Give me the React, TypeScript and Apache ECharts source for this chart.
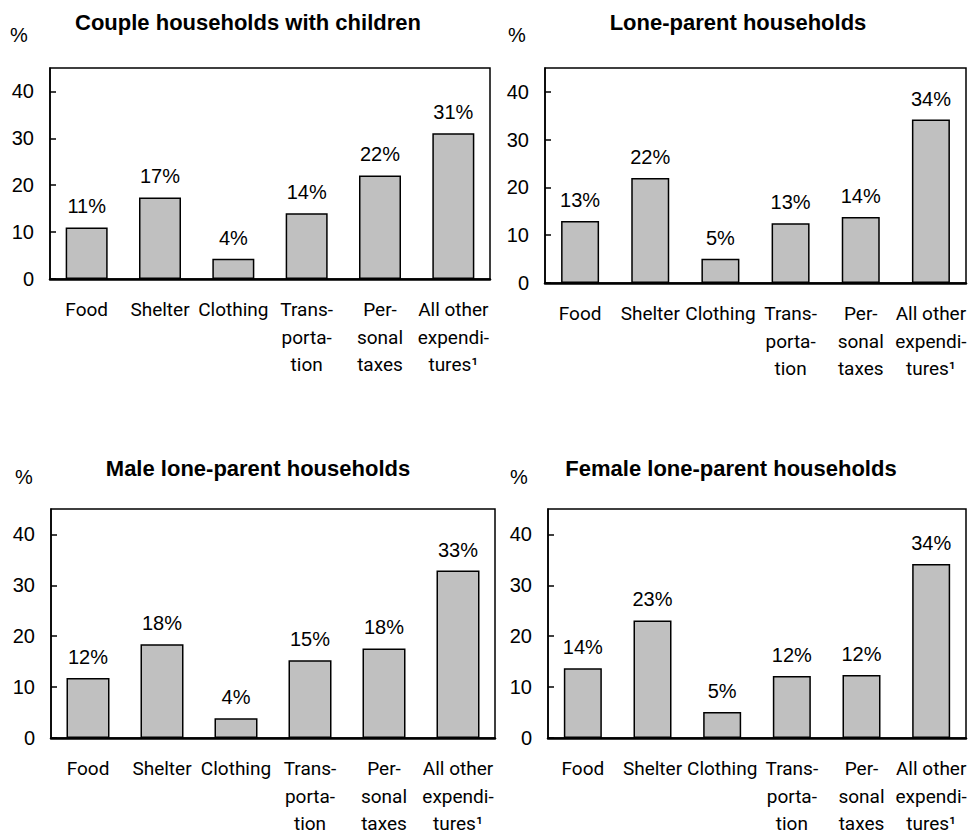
import React, { useEffect, useRef } from "react";
import * as echarts from "echarts";

// ---- data ----
const categories = [
  "Food",
  "Shelter",
  "Clothing",
  "Trans-\nporta-\ntion",
  "Per-\nsonal\ntaxes",
  "All other\nexpendi-\ntures¹",
];
const panelTitles = [
  "Couple households with children",
  "Lone-parent households",
  "Male lone-parent households",
  "Female lone-parent households",
];
const coupleValues = [11.0, 17.4, 4.3, 14.0, 22.1, 31.1];
const loneParentValues = [13.0, 22.0, 5.1, 12.5, 13.8, 34.2];
const maleLoneParentValues = [11.8, 18.4, 3.9, 15.3, 17.6, 32.9];
const femaleLoneParentValues = [13.7, 23.1, 5.1, 12.2, 12.4, 34.2];
const yMin = 0;
const yMax = 45;
const yInterval = 10;
const unitLabel = "%";

const seriesValues = [coupleValues, loneParentValues, maleLoneParentValues, femaleLoneParentValues];

// ---- layout (pixels) ----
const layout = [
  { left: 50, top: 68, width: 440, height: 211, barWidth: 42, titleX: 248, titleY: 22, pctX: 19, pctY: 35 },
  { left: 545, top: 68, width: 421, height: 215, barWidth: 38, titleX: 738, titleY: 22, pctX: 517, pctY: 35 },
  { left: 51, top: 509, width: 444, height: 229, barWidth: 43, titleX: 258, titleY: 468, pctX: 24, pctY: 477 },
  { left: 548, top: 509, width: 418, height: 229, barWidth: 38, titleX: 731, titleY: 468, pctX: 519, pctY: 477 },
];

const SANS = "'Liberation Sans', Arial, Helvetica, sans-serif";
const NARROW = "Roboto, 'Liberation Sans', sans-serif";

export default function App() {
  const ref = useRef<HTMLDivElement>(null);

  useEffect(() => {
    if (!ref.current) return;
    const chart = echarts.init(ref.current, undefined, { renderer: "svg" });

    const grid = layout.map((l) => ({
      left: l.left,
      top: l.top,
      width: l.width,
      height: l.height,
      show: true,
      borderColor: "#000",
      borderWidth: 1.5,
      backgroundColor: "transparent",
      containLabel: false,
      outerBoundsMode: "none",
    }));

    const xAxis = layout.map((_, i) => ({
      type: "category",
      gridIndex: i,
      data: categories,
      axisLine: { show: true, lineStyle: { color: "#000", width: 2.5 } },
      axisTick: { show: false },
      axisLabel: {
        interval: 0,
        color: "#000",
        fontFamily: NARROW,
        fontSize: 19,
        lineHeight: 27.5,
        margin: 17,
        align: "center",
      },
      splitLine: { show: false },
    }));

    const yAxis = layout.map((_, i) => ({
      type: "value",
      gridIndex: i,
      min: yMin,
      max: yMax,
      interval: yInterval,
      axisLine: { show: true, lineStyle: { color: "#000", width: 1.5 } },
      axisTick: { show: true, inside: true, length: 6, lineStyle: { color: "#000", width: 1.5 } },
      axisLabel: {
        color: "#000",
        fontFamily: SANS,
        fontSize: 20,
        margin: 16,
        showMaxLabel: false,
      },
      splitLine: { show: false },
    }));

    const series = seriesValues.map((vals, i) => ({
      type: "bar",
      xAxisIndex: i,
      yAxisIndex: i,
      data: vals,
      barWidth: layout[i].barWidth,
      itemStyle: { color: "#c0c0c0", borderColor: "#000", borderWidth: 1.5 },
      label: {
        show: true,
        position: "top",
        distance: 11,
        color: "#000",
        fontFamily: SANS,
        fontSize: 20,
        formatter: (p: any) => Math.round(p.value) + "%",
      },
    }));

    const graphicEls: any[] = [];
    layout.forEach((l, i) => {
      graphicEls.push({
        type: "text",
        x: l.titleX,
        y: l.titleY,
        style: {
          text: panelTitles[i],
          font: `bold 22px ${SANS}`,
          fill: "#000",
          align: "center",
          verticalAlign: "middle",
          textAlign: "center",
          textVerticalAlign: "middle",
        },
      });
      graphicEls.push({
        type: "text",
        x: l.pctX,
        y: l.pctY,
        style: {
          text: unitLabel,
          font: `20px ${SANS}`,
          fill: "#000",
          align: "center",
          verticalAlign: "middle",
          textAlign: "center",
          textVerticalAlign: "middle",
        },
      });
    });

    chart.setOption({
      animation: false,
      backgroundColor: "#fff",
      grid,
      xAxis,
      yAxis,
      series,
      graphic: { elements: graphicEls },
    } as any);

    return () => chart.dispose();
  }, []);

  return (
    <div
      ref={ref}
      style={{ position: "fixed", left: 0, top: 0, width: 969, height: 836, background: "#fff" }}
    />
  );
}
